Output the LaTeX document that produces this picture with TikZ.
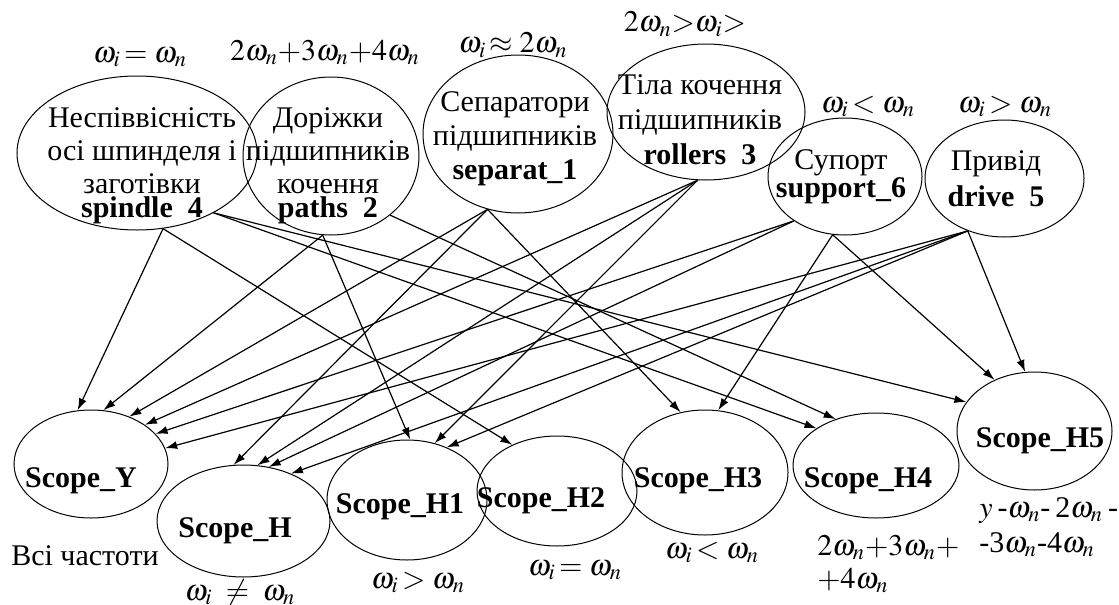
\documentclass[tikz,border=0pt]{standalone}
\usepackage{mathptmx}
\usepackage{fontspec}
\setmainfont{Liberation Serif}
\usetikzlibrary{arrows.meta,shapes.geometric}

\begin{document}
\begin{tikzpicture}[x=0.5pt,y=-0.5pt,>={Latex[length=6pt,width=4pt]},
 unit/.style={ellipse,draw,line width=0.5pt,inner sep=0pt},
 txt/.style={align=center,inner sep=0pt,font=\fontsize{15}{16.5}\selectfont},
 tag/.style={inner sep=0pt,anchor=base,font=\fontsize{15}{17}\selectfont},
 scope/.style={tag,font=\fontsize{15}{17}\selectfont\bfseries},
 link/.style={->,line width=0.6pt}]
 \useasboundingbox (0,0) rectangle (1119,605);
 \clip (0,0) rectangle (1119,605);

 % sources of vibration
 \node[unit,minimum width=120pt,minimum height=77pt] (spindle) at (137,153) {};
 \node[unit,minimum width=88pt,minimum height=79pt] (paths) at (331,156) {};
 \node[unit,minimum width=95pt,minimum height=79pt] (separat) at (518,134) {};
 \node[unit,minimum width=99pt,minimum height=68pt] (rollers) at (706,112) {};
 \node[unit,minimum width=77pt,minimum height=58.5pt] (support) at (845,176.5) {};
 \node[unit,minimum width=79.5pt,minimum height=58.5pt] (drive) at (1004.5,178.5) {};

 \node[txt] (spindle-t) at (142,166) {Неспіввісність\\осі шпинделя і\\заготівки\\[-4.5pt]\textbf{spindle~~4}};
 \node[txt] (paths-t) at (328,166) {Доріжки\\підшипників\\кочення\\[-4.5pt]\textbf{paths~~2}};
 \node[txt] (separat-t) at (515,139) {Сепаратори\\[0.5pt]підшипників\\[0.5pt]\textbf{separat\_1}};
 \node[txt] (rollers-t) at (700,120) {Тіла кочення\\[1pt]підшипників\\[1pt]\textbf{rollers~~3}};
 \node[txt] (support-t) at (841,177) {Супорт\\[-2.5pt]\textbf{support\_6}};
 \node[txt] (drive-t) at (996,179) {Привід\\[1.5pt]\textbf{drive~~5}};

 % frequency bands of the sources
 \node[tag] (spindle-f) at (140,62) {$\omega_i\!=\omega_n$};
 \node[tag] (paths-f) at (325,60) {$2\omega_n{+}3\omega_n{+}4\omega_n$};
 \node[tag] (separat-f) at (513,53) {$\omega_i\!\approx 2\omega_n$};
 \node[tag] (rollers-f) at (685,32) {$2\omega_n{>}\omega_i{>}$};
 \node[tag] (support-f) at (868,112) {$\omega_i\!<\omega_n$};
 \node[tag] (drive-f) at (1005,112) {$\omega_i\!>\omega_n$};

 % scopes
 \node[unit,minimum width=77pt,minimum height=54pt] (scY) at (91,464) {};
 \node[unit,minimum width=86.5pt,minimum height=56pt] (scH) at (243.5,521) {};
 \node[unit,minimum width=80pt,minimum height=60pt] (scH1) at (407,500) {};
 \node[unit,minimum width=80pt,minimum height=55pt] (scH2) at (557,491) {};
 \node[unit,minimum width=83pt,minimum height=62.5pt] (scH3) at (705,472.5) {};
 \node[unit,minimum width=83pt,minimum height=52.5pt] (scH4) at (876,465.5) {};
 \node[unit,minimum width=77.5pt,minimum height=59pt] (scH5) at (1034.5,431) {};

 \node[scope] (scY-t) at (81,487) {Scope\_Y};
 \node[scope] (scH-t) at (235,537) {Scope\_H};
 \node[scope] (scH1-t) at (400,513) {Scope\_H1};
 \node[scope] (scH2-t) at (541,507) {Scope\_H2};
 \node[scope] (scH3-t) at (698,487) {Scope\_H3};
 \node[scope] (scH4-t) at (868,487) {Scope\_H4};
 \node[scope] (scH5-t) at (1040,447) {Scope\_H5};

 \node[tag] (scY-f) at (85,565) {Всі частоти};
 \node[tag] (scH-f) at (240,600) {$\omega_i\;\neq\;\omega_n$};
 \node[tag] (scH1-f) at (418,588) {$\omega_i\!>\omega_n$};
 \node[tag] (scH2-f) at (575,575) {$\omega_i\!=\omega_n$};
 \node[tag] (scH3-f) at (712,558) {$\omega_i\!<\omega_n$};
 \node[tag,align=left,anchor=north west,font=\fontsize{15}{16.5}\selectfont] (scH4-f) at (817,535)
  {$2\omega_n{+}3\omega_n{+}$\\$+4\omega_n$};
 \node[tag,align=left,anchor=north west,font=\fontsize{15}{17.5}\selectfont] (scH5-f) at (979,497)
  {$y$\,-$\omega_n$-\,2$\omega_n$\,-\\-3$\omega_n$-4$\omega_n$};

 % source -> scope
 \foreach \a/\p/\b/\q in {spindle/-71.4/scY/104, paths/-96.5/scY/77,
   separat/-112.9/scY/51, rollers/-97.5/scY/36, support/-139.8/scY/25,
   drive/-125/scY/12.6, separat/-112.9/scH/100, rollers/-97.5/scH/76,
   support/-139.8/scH/65, drive/-125/scH/45, paths/-96.5/scH1/87,
   rollers/-97.5/scH1/64, drive/-125/scH1/53, spindle/-71.4/scH2/134,
   separat/-112.9/scH3/112, support/-102/scH3/78, spindle/-38.9/scH4/148,
   paths/-45/scH4/131, spindle/-38.9/scH5/157, support/-102/scH5/128,
   drive/-125/scH5/99}
  \draw[link] (\a.\p) -- (\b.\q);
\end{tikzpicture}
\end{document}
